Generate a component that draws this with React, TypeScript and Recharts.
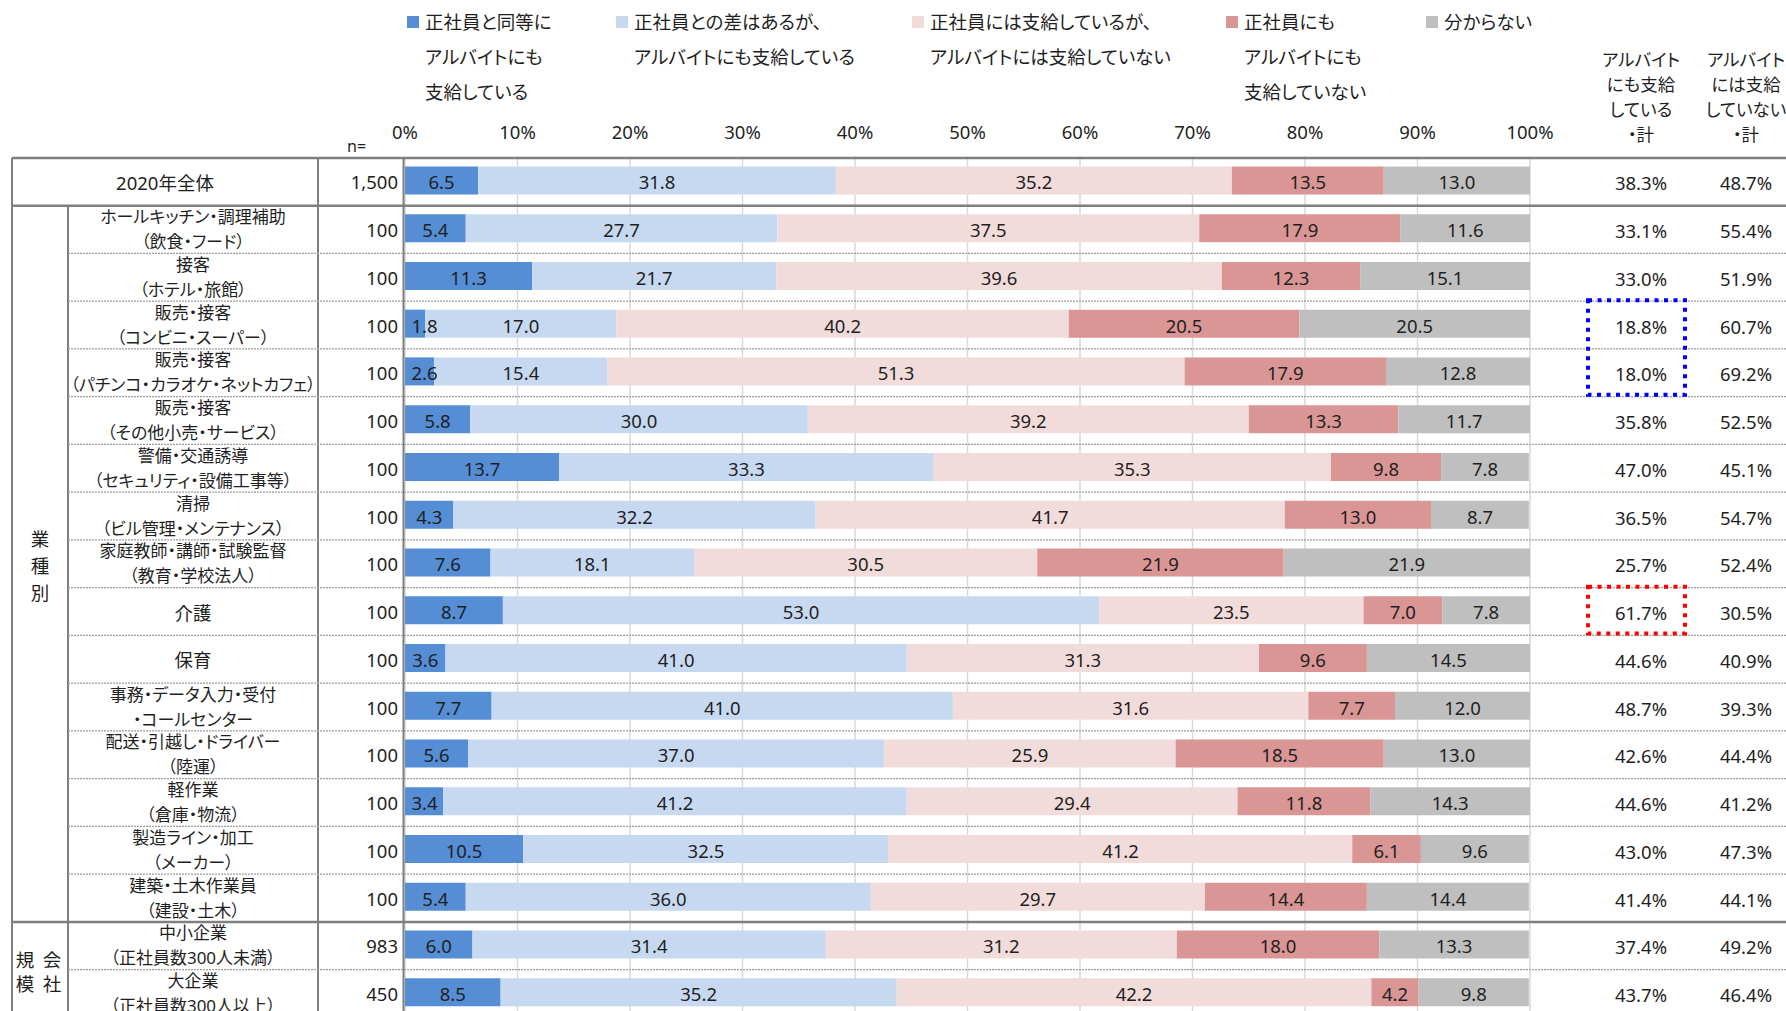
import { BarChart, Bar, XAxis, YAxis, CartesianGrid, Legend, LabelList } from "recharts"

// rows of the table, top to bottom
const ROW_LABELS: string[][] = [
    ["2020年全体"],
    ["ホールキッチン・調理補助", "（飲食・フード）"],
    ["接客", "（ホテル・旅館）"],
    ["販売・接客", "（コンビニ・スーパー）"],
    ["販売・接客", "（パチンコ・カラオケ・ネットカフェ）"],
    ["販売・接客", "（その他小売・サービス）"],
    ["警備・交通誘導", "（セキュリティ・設備工事等）"],
    ["清掃", "（ビル管理・メンテナンス）"],
    ["家庭教師・講師・試験監督", "（教育・学校法人）"],
    ["介護"],
    ["保育"],
    ["事務・データ入力・受付", "・コールセンター"],
    ["配送・引越し・ドライバー", "（陸運）"],
    ["軽作業", "（倉庫・物流）"],
    ["製造ライン・加工", "（メーカー）"],
    ["建築・土木作業員", "（建設・土木）"],
    ["中小企業", "（正社員数300人未満）"],
    ["大企業", "（正社員数300人以上）"],
]
const SAMPLE_N = ["1,500", "100", "100", "100", "100", "100", "100", "100", "100", "100", "100", "100", "100", "100", "100", "100", "983", "450"]

const EQUAL = [6.5, 5.4, 11.3, 1.8, 2.6, 5.8, 13.7, 4.3, 7.6, 8.7, 3.6, 7.7, 5.6, 3.4, 10.5, 5.4, 6.0, 8.5]
const WITH_GAP = [31.8, 27.7, 21.7, 17.0, 15.4, 30.0, 33.3, 32.2, 18.1, 53.0, 41.0, 41.0, 37.0, 41.2, 32.5, 36.0, 31.4, 35.2]
const STAFF_ONLY = [35.2, 37.5, 39.6, 40.2, 51.3, 39.2, 35.3, 41.7, 30.5, 23.5, 31.3, 31.6, 25.9, 29.4, 41.2, 29.7, 31.2, 42.2]
const NEITHER = [13.5, 17.9, 12.3, 20.5, 17.9, 13.3, 9.8, 13.0, 21.9, 7.0, 9.6, 7.7, 18.5, 11.8, 6.1, 14.4, 18.0, 4.2]
const UNKNOWN = [13.0, 11.6, 15.1, 20.5, 12.8, 11.7, 7.8, 8.7, 21.9, 7.8, 14.5, 12.0, 13.0, 14.3, 9.6, 14.4, 13.3, 9.8]

const TOTAL_PAID = [38.3, 33.1, 33.0, 18.8, 18.0, 35.8, 47.0, 36.5, 25.7, 61.7, 44.6, 48.7, 42.6, 44.6, 43.0, 41.4, 37.4, 43.7]
const TOTAL_UNPAID = [48.7, 55.4, 51.9, 60.7, 69.2, 52.5, 45.1, 54.7, 52.4, 30.5, 40.9, 39.3, 44.4, 41.2, 47.3, 44.1, 49.2, 46.4]

const X_TICKS = [0, 10, 20, 30, 40, 50, 60, 70, 80, 90, 100]

const HEADER_PAID = ["アルバイト", "にも支給", "している", "・計"]
const HEADER_UNPAID = ["アルバイト", "には支給", "していない", "・計"]

const SERIES = [
    { key: "equal", name: "正社員と同等に\nアルバイトにも\n支給している", color: "#558ed5", values: EQUAL },
    { key: "gap", name: "正社員との差はあるが、\nアルバイトにも支給している", color: "#c6d9f1", values: WITH_GAP },
    { key: "staff", name: "正社員には支給しているが、\nアルバイトには支給していない", color: "#f2dcdb", values: STAFF_ONLY },
    { key: "neither", name: "正社員にも\nアルバイトにも\n支給していない", color: "#d99694", values: NEITHER },
    { key: "unknown", name: "分からない", color: "#bfbfbf", values: UNKNOWN },
]

const data = ROW_LABELS.map((lines, i) => {
    const row: Record<string, string | number> = { id: lines.join("") }
    SERIES.forEach((s) => (row[s.key] = s.values[i]))
    return row
})

// layout
const W = 1786
const H = 1030
const PLOT_TOP = 156.4
const PLOT_LEFT = 405
const PLOT_RIGHT = 1530
const BAND = 47.75
const PLOT_BOTTOM = PLOT_TOP + BAND * ROW_LABELS.length
const LINE_SHIFT = 1.5
const LEGEND_X = [407, 616, 912, 1226, 1426]
const THICK_ROWS = [0, 1, 16]
const TEXT = "#1f1f1f"
const GRID_GRAY = "#7f7f7f"
const FONT = '"Noto Sans", "Noto Sans CJK JP", sans-serif'

const BarValue = (p: any) => {
    const v = Number(p.value).toFixed(1)
    const half = (v.length * 10.4) / 2
    let cx = p.x + p.width / 2
    if (cx - half < PLOT_LEFT + 4) cx = PLOT_LEFT + 4 + half
    return (
        <text x={cx} y={p.y + p.height / 2 + 1.5} textAnchor="middle" dominantBaseline="central"
              fontSize={18.5} fill={TEXT}>
            {v}
        </text>
    )
}

const PercentTick = (p: any) => (
    <text x={p.x} y={PLOT_TOP - 25} textAnchor="middle" dominantBaseline="central" fontSize={18.5} fill={TEXT}>
        {p.payload.value}%
    </text>
)

const RowTick = (p: any) => {
    const { y, index } = p
    const top = y - BAND / 2 + LINE_SHIFT
    const lines = ROW_LABELS[index]
    const cx = index === 0 ? 165 : 193
    const groupMid = PLOT_TOP + BAND * 8.5 + LINE_SHIFT + 2
    const companyMid = PLOT_TOP + BAND * 17 + LINE_SHIFT + 2
    return (
        <g>
            {THICK_ROWS.includes(index) ? (
                <line x1={12} x2={W} y1={top} y2={top} stroke={GRID_GRAY} strokeWidth={2.5} />
            ) : (
                <line x1={68} x2={W} y1={top} y2={top} stroke="#9c9c9c" strokeWidth={1.3} strokeDasharray="2 1" />
            )}
            {lines.length === 1 ? (
                <text x={cx} y={y + 2} textAnchor="middle" dominantBaseline="central" fontSize={18.5} fill={TEXT}>
                    {lines[0]}
                </text>
            ) : (
                <>
                    <text x={cx} y={y - 11.5} textAnchor="middle" dominantBaseline="central" fontSize={17} fill={TEXT}>
                        {lines[0]}
                    </text>
                    <text x={cx} y={y + 13.5} textAnchor="middle" dominantBaseline="central" fontSize={17} fill={TEXT}>
                        {lines[1]}
                    </text>
                </>
            )}
            <text x={398} y={y + 1.5} textAnchor="end" dominantBaseline="central" fontSize={18.5} fill={TEXT}>
                {SAMPLE_N[index]}
            </text>
            {index === 0 && (
                <>
                    <text x={347} y={146} dominantBaseline="central" fontSize={16} fill={TEXT}>n=</text>
                    <line x1={12} x2={12} y1={top} y2={PLOT_BOTTOM + LINE_SHIFT} stroke={GRID_GRAY} strokeWidth={2} />
                    <line x1={318} x2={318} y1={top} y2={PLOT_BOTTOM + LINE_SHIFT} stroke={GRID_GRAY} strokeWidth={2} />
                    <line x1={403.5} x2={403.5} y1={top} y2={PLOT_BOTTOM + LINE_SHIFT} stroke={GRID_GRAY} strokeWidth={2} />
                    <line x1={68} x2={68} y1={top + BAND} y2={PLOT_BOTTOM + LINE_SHIFT} stroke={GRID_GRAY} strokeWidth={2} />
                </>
            )}
            {index === 1 &&
                ["業", "種", "別"].map((c, k) => (
                    <text key={c} x={40} y={groupMid + (k - 1) * 27} textAnchor="middle" dominantBaseline="central"
                          fontSize={18.5} fill={TEXT}>
                        {c}
                    </text>
                ))}
            {index === 16 && (
                <>
                    <text x={25} y={companyMid - 12} textAnchor="middle" dominantBaseline="central" fontSize={18.5} fill={TEXT}>規</text>
                    <text x={25} y={companyMid + 12} textAnchor="middle" dominantBaseline="central" fontSize={18.5} fill={TEXT}>模</text>
                    <text x={52} y={companyMid - 12} textAnchor="middle" dominantBaseline="central" fontSize={18.5} fill={TEXT}>会</text>
                    <text x={52} y={companyMid + 12} textAnchor="middle" dominantBaseline="central" fontSize={18.5} fill={TEXT}>社</text>
                </>
            )}
        </g>
    )
}

const BOXES = [
    { rows: [3, 4], color: "#0000ff" },
    { rows: [9], color: "#ff0000" },
]

const TotalTick = (p: any) => {
    const { y, index } = p
    const box = BOXES.find((b) => b.rows[0] === index)
    return (
        <g>
            <text x={1641} y={y + 2.5} textAnchor="middle" dominantBaseline="central" fontSize={18.5} fill={TEXT}>
                {TOTAL_PAID[index].toFixed(1)}%
            </text>
            <text x={1746} y={y + 2.5} textAnchor="middle" dominantBaseline="central" fontSize={18.5} fill={TEXT}>
                {TOTAL_UNPAID[index].toFixed(1)}%
            </text>
            {box && (
                <rect x={1588} y={y - BAND / 2 + 0.5} width={97} height={BAND * box.rows.length - 1}
                      fill="none" stroke={box.color} strokeWidth={4} strokeDasharray="4 5.5" />
            )}
            {index === 0 &&
                HEADER_PAID.map((t, k) => (
                    <g key={k}>
                        <text x={1641} y={59 + k * 25} textAnchor="middle" dominantBaseline="central" fontSize={17.5} fill={TEXT}>{t}</text>
                        <text x={1746} y={59 + k * 25} textAnchor="middle" dominantBaseline="central" fontSize={17.5} fill={TEXT}>{HEADER_UNPAID[k]}</text>
                    </g>
                ))}
        </g>
    )
}

// legend keeps the series order (recharts sorts the payload by name otherwise)
const LegendBlock = ({ payload }: any) => {
    const items = SERIES.map((s) => {
        const hit = (payload || []).find((it: any) => it.dataKey === s.key)
        return { value: hit ? hit.value : s.name, color: hit ? hit.color : s.color }
    })
    return (
        <div style={{ position: "relative", height: 0 }}>
            {items.map((item, i) => (
                <div key={i} style={{ position: "absolute", left: LEGEND_X[i], top: 0 }}>
                    <div style={{ position: "absolute", left: 0, top: 16, width: 12, height: 12, background: item.color }} />
                    {String(item.value).split("\n").map((line: string, j: number) => (
                        <div key={j} style={{
                            position: "absolute", left: 18, top: 22 + 35 * j - 13, lineHeight: "26px",
                            fontSize: 18.5, whiteSpace: "nowrap", color: TEXT,
                        }}>
                            {line}
                        </div>
                    ))}
                </div>
            ))}
        </div>
    )
}

export default function App() {
    return (
        <div style={{
            position: "fixed", left: 0, top: 0, width: W, height: 1011, overflow: "hidden",
            background: "#fff", fontFamily: FONT, fontFeatureSettings: '"palt"', color: TEXT,
        }}>
            <BarChart width={W} height={H} data={data} layout="vertical"
                      margin={{ top: 0, right: 0, left: 0, bottom: H - PLOT_BOTTOM }}>
                <CartesianGrid horizontal={false} stroke="#d9d9d9" strokeWidth={1.5} />
                <XAxis type="number" orientation="top" domain={[0, 100]} ticks={X_TICKS} allowDataOverflow
                       height={PLOT_TOP} axisLine={false} tickLine={false} tick={<PercentTick />} interval={0} />
                <YAxis type="category" dataKey="id" width={PLOT_LEFT} axisLine={false} tickLine={false}
                       tick={<RowTick />} interval={0} />
                <YAxis yAxisId="right" orientation="right" type="category" dataKey="id" width={W - PLOT_RIGHT}
                       axisLine={false} tickLine={false} tick={<TotalTick />} interval={0} />
                <Legend verticalAlign="top" content={<LegendBlock />}
                        wrapperStyle={{ left: 0, top: 0, width: W, height: 0 }} />
                {SERIES.map((s) => (
                    <Bar key={s.key} dataKey={s.key} name={s.name} stackId="a" fill={s.color} barSize={28}
                         isAnimationActive={false}>
                        <LabelList dataKey={s.key} content={(p: any) => <BarValue {...p} />} />
                    </Bar>
                ))}
            </BarChart>
        </div>
    )
}
